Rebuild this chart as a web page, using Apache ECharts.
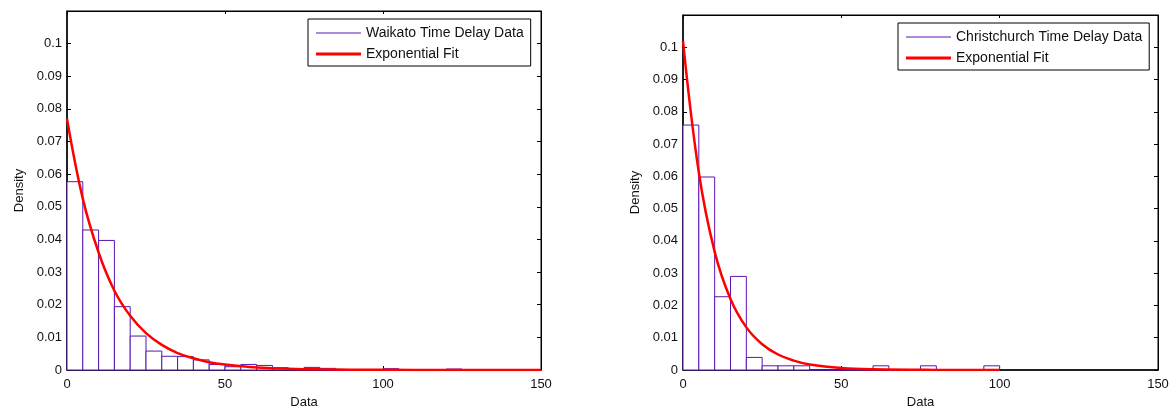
<!DOCTYPE html>
<html>
<head>
<meta charset="utf-8">
<script src="https://cdn.jsdelivr.net/npm/echarts@6/dist/echarts.min.js"></script>
<style>
html,body{margin:0;padding:0;background:#fff;}
#c{width:1172px;height:414px;}
</style>
</head>
<body>
<div id="c"></div>
<script>
// ---- data ----
var binWidth = 5;
var waikatoDensity = [0.0577,0.0429,0.0397,0.0194,0.0104,0.0058,0.0042,0.0041,0.0031,0.0017,
                      0.0010,0.0017,0.0014,0.0007,0.0003,0.0008,0.0005,0,0,0,
                      0.0004,0,0,0,0.0003,0,0,0,0,0];
var christchurchDensity = [0.0759,0.0598,0.0227,0.0290,0.0039,0.0013,0.0013,0.0013,0,0,
                           0,0,0.0013,0,0,0.0013,0,0,0,0.0013];
var waikatoFitX = [0,5,10,15,20,25,30,35,40,45,50,60,70,80,100,120,150];
var waikatoFitY = [0.077,0.0525,0.036,0.0243,0.0166,0.0113,0.0077,0.0052,0.0036,0.0024,0.0017,0.0008,0.0004,0.0002,0.00005,0.00001,0];
var christchurchFitX = [0,5,10,15,20,25,30,35,40,50,60,80,100];
var christchurchFitY = [0.102,0.0612,0.0366,0.0220,0.0132,0.0080,0.0048,0.0029,0.0017,0.0006,0.0002,0.00003,0];
var yTicks = [0,0.01,0.02,0.03,0.04,0.05,0.06,0.07,0.08,0.09,0.1];
var names = ['Waikato Time Delay Data','Christchurch Time Delay Data'];
var fitName = 'Exponential Fit';

function bins(d){ return d.map(function(h,i){ return [i*binWidth,(i+1)*binWidth,h]; }); }
function pairs(xs,ys){ return xs.map(function(x,i){ return [x,ys[i]]; }); }

var PURPLE = '#5a14b4';
var FONT = 'Liberation Sans, Arial, sans-serif';

function renderBar(params, api){
  var p0 = api.coord([api.value(0), api.value(2)]);
  var p1 = api.coord([api.value(1), 0]);
  return {type:'rect', shape:{x:p0[0], y:p0[1], width:p1[0]-p0[0], height:p1[1]-p0[1]},
          style:{fill:'#ffffff', stroke:PURPLE, lineWidth:1}};
}

var grids = [
  {left:67, right:631, top:11, bottom:40, show:true, borderColor:'#000', borderWidth:1, containLabel:false},
  {left:683, right:14, top:15, bottom:40, show:true, borderColor:'#000', borderWidth:1, containLabel:false}
];
var xAxes = [], yAxes = [];
[0,1].forEach(function(g){
  xAxes.push({type:'value', gridIndex:g, min:0, max:150, interval:50, position:'bottom',
    name:'Data', nameLocation:'middle', nameGap:26,
    nameTextStyle:{color:'#111', fontFamily:FONT, fontSize:13},
    axisLine:{show:true, onZero:false, lineStyle:{color:'#000', width:1.5}},
    axisTick:{show:true, inside:true, length:4, lineStyle:{color:'#000'}},
    axisLabel:{color:'#111', fontFamily:FONT, fontSize:13, margin:8},
    splitLine:{show:false}});
  xAxes.push({type:'value', gridIndex:g, min:0, max:150, interval:50, position:'top',
    axisLine:{show:true, onZero:false, lineStyle:{color:'#000', width:1}},
    axisTick:{show:true, inside:true, length:3, lineStyle:{color:'#000'}},
    axisLabel:{show:false}, splitLine:{show:false}});
  yAxes.push({type:'value', gridIndex:g, min:0, max:0.11, interval:0.01, position:'left',
    name:'Density', nameLocation:'middle', nameGap:41,
    nameTextStyle:{color:'#111', fontFamily:FONT, fontSize:13},
    axisLine:{show:true, onZero:false, lineStyle:{color:'#000', width:1.5}},
    axisTick:{show:true, inside:true, length:4, lineStyle:{color:'#000'}},
    axisLabel:{color:'#111', fontFamily:FONT, fontSize:13, margin:5,
      formatter:function(v){ var s = (Math.round(v*100)/100).toString(); return yTicks.some(function(t){return Math.abs(t-v)<1e-9;}) ? s : ''; }},
    splitLine:{show:false}});
  yAxes.push({type:'value', gridIndex:g, min:0, max:0.11, interval:0.01, position:'right',
    axisLine:{show:true, onZero:false, lineStyle:{color:'#000', width:1}},
    axisTick:{show:true, inside:true, length:4, lineStyle:{color:'#000'}},
    axisLabel:{show:false}, splitLine:{show:false}});
});

var series = [];
var hist = [waikatoDensity, christchurchDensity];
var fits = [pairs(waikatoFitX, waikatoFitY), pairs(christchurchFitX, christchurchFitY)];
[0,1].forEach(function(g){
  series.push({type:'custom', xAxisIndex:g*2, yAxisIndex:g*2, renderItem:renderBar,
    data:bins(hist[g]), encode:{x:[0,1], y:2}, z:2, silent:true});
  series.push({type:'line', name:names[g], xAxisIndex:g*2, yAxisIndex:g*2, data:[],
    symbol:'none', lineStyle:{color:PURPLE, width:1}, itemStyle:{color:PURPLE}});
  series.push({type:'line', name:fitName, xAxisIndex:g*2, yAxisIndex:g*2, data:fits[g],
    smooth:0.4, symbol:'none', showSymbol:false, z:5,
    lineStyle:{color:'#ff0000', width:2.5}, itemStyle:{color:'#ff0000'}});
});

var thinIcon = 'path://M0,0H45V1H0Z';
var legendCommon = {orient:'vertical', itemWidth:45, itemHeight:3, itemGap:7,
  backgroundColor:'#fff', borderColor:'#000', borderWidth:1, borderRadius:0,
  padding:[7,7,5,8], selectedMode:false,
  textStyle:{color:'#111', fontFamily:FONT, fontSize:14, lineHeight:14}};

var option = {
  animation:false,
  backgroundColor:'#fff',
  grid:grids,
  xAxis:xAxes,
  yAxis:yAxes,
  legend:[
    Object.assign({}, legendCommon, {left:308, top:19,
      data:[{name:names[0], icon:thinIcon}, {name:fitName, icon:'rect'}]}),
    Object.assign({}, legendCommon, {left:898, top:23,
      data:[{name:names[1], icon:thinIcon}, {name:fitName, icon:'rect'}]})
  ],
  series:series
};
var chart = echarts.init(document.getElementById('c'), null, {renderer:'canvas'});
chart.setOption(option);
</script>
</body>
</html>
